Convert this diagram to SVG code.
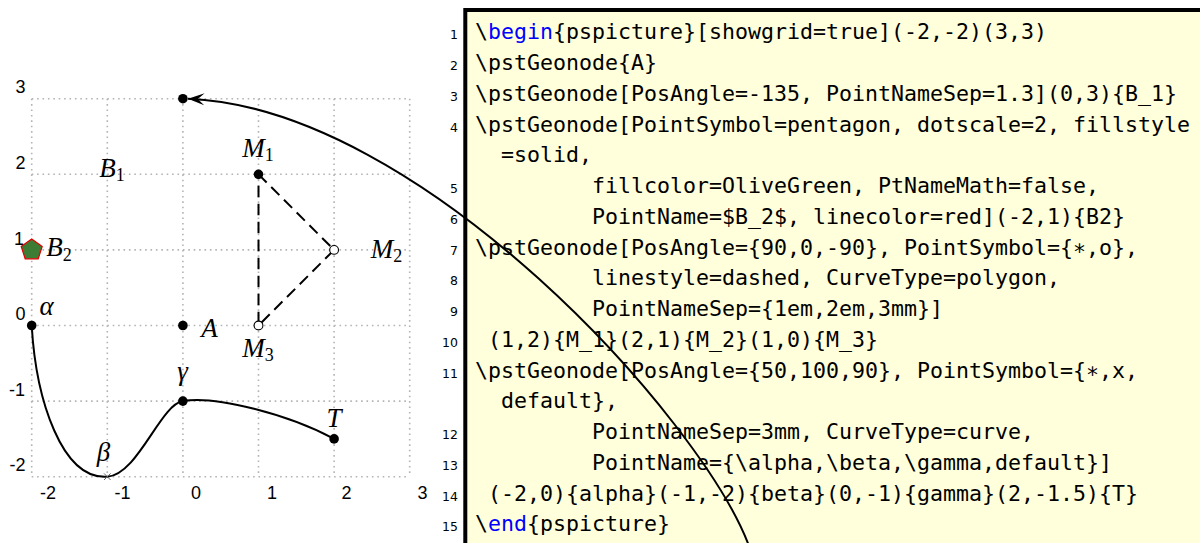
<svg xmlns="http://www.w3.org/2000/svg" width="1200" height="543" viewBox="0 0 1200 543">
<style>
.grid{stroke:#b4b4b4;stroke-width:1.6;stroke-dasharray:1.6 3.8;fill:none}
.ax{font-family:"Liberation Sans",Arial,sans-serif;font-size:18px;fill:#000}
.lbl{font-family:"Liberation Serif","Times New Roman",serif;font-style:italic;font-size:27px;fill:#000}
.sub{font-style:normal;font-size:18px}
.dot{fill:#000}
.odot{fill:#fff;stroke:#000;stroke-width:1.1}
.code{font-family:"DejaVu Sans Mono",monospace;font-size:21.6px;fill:#000}
.kw{fill:#0000ff}
.ln{font-family:"DejaVu Sans",sans-serif;font-size:12.5px;fill:#000;text-anchor:end}
.conn{fill:none;stroke:#000;stroke-width:2}
</style>
<defs>
<marker id="ah" markerUnits="userSpaceOnUse" markerWidth="20" markerHeight="14" viewBox="-17 -7 20 14" refX="0" refY="0" orient="auto">
<path d="M0,0 L-16.4,-6 L-9.8,0 L-16.4,6 Z" fill="#000"/>
</marker>
</defs>
<rect width="1200" height="543" fill="#fff"/>

<g id="grid">
<path class="grid" d="M31.7,98.7V476.7M107.3,98.7V476.7M182.9,98.7V476.7M258.5,98.7V476.7M334.1,98.7V476.7M409.7,98.7V476.7"/>
<path class="grid" d="M31.7,98.7H409.7M31.7,174.3H409.7M31.7,249.9H409.7M31.7,325.5H409.7M31.7,401.1H409.7M31.7,476.7H409.7"/>
</g>
<g id="axis-labels" class="ax">
<text x="25.5" y="93" text-anchor="end">3</text>
<text x="25.5" y="168.5" text-anchor="end">2</text>
<text x="24" y="244.5" text-anchor="end">1</text>
<text x="25.5" y="320" text-anchor="end">0</text>
<text x="25" y="395.5" text-anchor="end">-1</text>
<text x="25.5" y="471" text-anchor="end">-2</text>
<text x="48" y="498.5" text-anchor="middle">-2</text>
<text x="122.5" y="498.5" text-anchor="middle">-1</text>
<text x="196" y="498.5" text-anchor="middle">0</text>
<text x="272" y="498.5" text-anchor="middle">1</text>
<text x="346.6" y="498.5" text-anchor="middle">2</text>
<text x="422.5" y="498.5" text-anchor="middle">3</text>
</g>

<g id="code-listing">
<rect x="465.3" y="10" width="800" height="600" fill="#ffffdc" stroke="#000" stroke-width="4"/>
<g class="ln">
<text x="458" y="39.3">1</text>
<text x="458" y="70.05">2</text>
<text x="458" y="100.8">3</text>
<text x="458" y="131.55">4</text>
<text x="458" y="193.05">5</text>
<text x="458" y="223.8">6</text>
<text x="458" y="254.55">7</text>
<text x="458" y="285.3">8</text>
<text x="458" y="316.05">9</text>
<text x="458" y="346.8">10</text>
<text x="458" y="377.55">11</text>
<text x="458" y="439.05">12</text>
<text x="458" y="469.8">13</text>
<text x="458" y="500.55">14</text>
<text x="458" y="531.3">15</text>
</g>
<g class="code">
<text x="475" y="39.3">\<tspan class="kw">begin</tspan>{pspicture}[showgrid=true](-2,-2)(3,3)</text>
<text x="475" y="70.05">\pstGeonode{A}</text>
<text x="475" y="100.8">\pstGeonode[PosAngle=-135, PointNameSep=1.3](0,3){B_1}</text>
<text x="475" y="131.55">\pstGeonode[PointSymbol=pentagon, dotscale=2, fillstyle</text>
<text x="501" y="162.3">=solid,</text>
<text x="592" y="193.05">fillcolor=OliveGreen, PtNameMath=false,</text>
<text x="592" y="223.8">PointName=$B_2$, linecolor=red](-2,1){B2}</text>
<text x="475" y="254.55">\pstGeonode[PosAngle={90,0,-90}, PointSymbol={∗,o},</text>
<text x="592" y="285.3">linestyle=dashed, CurveType=polygon,</text>
<text x="592" y="316.05">PointNameSep={1em,2em,3mm}]</text>
<text x="488" y="346.8">(1,2){M_1}(2,1){M_2}(1,0){M_3}</text>
<text x="475" y="377.55">\pstGeonode[PosAngle={50,100,90}, PointSymbol={∗,x,</text>
<text x="501" y="408.3">default},</text>
<text x="592" y="439.05">PointNameSep=3mm, CurveType=curve,</text>
<text x="592" y="469.8">PointName={\alpha,\beta,\gamma,default}]</text>
<text x="488" y="500.55">(-2,0){alpha}(-1,-2){beta}(0,-1){gamma}(2,-1.5){T}</text>
<text x="475" y="531.3">\<tspan class="kw">end</tspan>{pspicture}</text>
</g>
</g>

<g id="connectors">
<path id="polygon-M" class="conn" stroke-dasharray="11.5 6.5" d="M258.5,174.3 L334.1,249.9 L258.5,325.5 Z"/>
<path id="curve-alpha-T" class="conn" d="M31.7,325.5 C36,400 62,480 107.3,476.7 C138,474.5 160,405 182.9,401.1 C215,395 290,415 334.1,438.9"/>
<path id="arrow-B1" class="conn" marker-end="url(#ah)" d="M749,546 C702,420 422,108 188,98.7"/>
</g>

<g id="node-A"><circle class="dot" cx="182.9" cy="325.5" r="4.8"/><text class="lbl" x="209.5" y="337" text-anchor="middle">A</text></g>
<g id="node-B1"><circle class="dot" cx="182.9" cy="98.7" r="4.8"/><text class="lbl" x="112" y="177" text-anchor="middle">B<tspan class="sub" dy="4">1</tspan></text></g>
<g id="node-B2"><polygon points="31.7,238.9 42.2,246.5 38.2,258.8 25.2,258.8 21.2,246.5" fill="#3c7c34" stroke="#e00000" stroke-width="1.2"/><text class="lbl" x="59" y="256" text-anchor="middle">B<tspan class="sub" dy="5">2</tspan></text></g>
<g id="node-M1"><circle class="dot" cx="258.5" cy="174.3" r="4.8"/><text class="lbl" x="258" y="157" text-anchor="middle">M<tspan class="sub" dy="4">1</tspan></text></g>
<g id="node-M2"><circle class="odot" cx="334.1" cy="249.9" r="4.4"/><text class="lbl" x="386.5" y="257.5" text-anchor="middle">M<tspan class="sub" dy="4">2</tspan></text></g>
<g id="node-M3"><circle class="odot" cx="258.5" cy="325.5" r="4.4"/><text class="lbl" x="258" y="357" text-anchor="middle">M<tspan class="sub" dy="4">3</tspan></text></g>
<g id="node-alpha"><circle class="dot" cx="31.7" cy="325.5" r="4.8"/><text class="lbl" x="46.5" y="315" text-anchor="middle">α</text></g>
<g id="node-beta"><path d="M104,473.4 L110.6,480 M104,480 L110.6,473.4" stroke="#666" stroke-width="1"/><text class="lbl" x="103.5" y="461" text-anchor="middle">β</text></g>
<g id="node-gamma"><circle class="dot" cx="182.9" cy="401.1" r="4.8"/><text class="lbl" x="182.5" y="380" text-anchor="middle">γ</text></g>
<g id="node-T"><circle class="dot" cx="334.1" cy="438.9" r="4.8"/><text class="lbl" x="334" y="427" text-anchor="middle">T</text></g>
</svg>
